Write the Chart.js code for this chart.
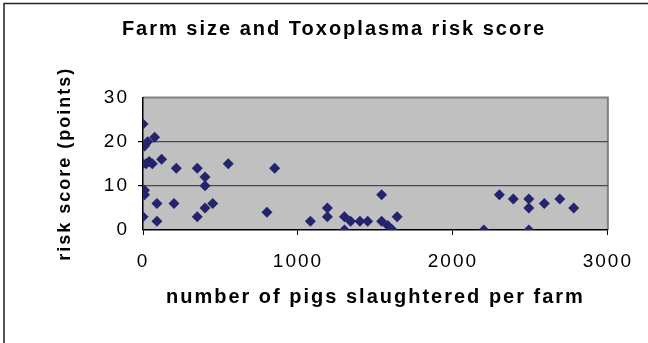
<!DOCTYPE html>
<html>
<head>
<meta charset="utf-8">
<script src="https://cdn.jsdelivr.net/npm/chart.js@4/dist/chart.umd.min.js"></script>
<style>
  body { margin: 0; background: #fff; }
  #wrap { width: 648px; height: 343px; }
</style>
</head>
<body>
<div id="wrap"><canvas id="myChart" width="648" height="343"></canvas></div>
<script>
// pigs slaughtered per farm vs risk score
const pigs = [0, 75, 30, 10, 0, 20, 40, 60, 120, 215, 350, 400, 400, 550, 850,
  10, 10, 90, 200, 0, 90, 350, 400, 450, 800, 1080, 1190, 1190, 1300, 1300,
  1340, 1400, 1450, 1540, 1540, 1580, 1610, 1640, 2200, 2300, 2390, 2490, 2490,
  2490, 2590, 2690, 2780];
const riskScore = [24, 21, 20, 19, 15, 15, 15.5, 15, 16, 14, 14, 12, 10, 15, 14,
  9, 8, 6, 6, 3, 2, 3, 5, 6, 4, 2, 5, 3, 3, 0,
  2, 2, 2, 8, 2, 1, 0, 3, 0, 8, 7, 7, 5,
  0, 6, 7, 5];
const xTicks = [0, 1000, 2000, 3000];
const yTicks = [0, 10, 20, 30];

const points = pigs.map((p, i) => ({ x: p, y: riskScore[i] }));

const fontFamily = 'Arial, "Liberation Sans", sans-serif';

// grey plot area + outer frame like the old Excel chart
// the text in the original is spaced out a bit, so letterSpacing is set on the context
const excelLook = {
  id: "excelLook",
  beforeUpdate(chart) {
    chart.ctx.letterSpacing = "2px";
  },
  beforeDraw(chart) {
    const { ctx, chartArea: a } = chart;
    ctx.letterSpacing = "2px";
    ctx.save();
    ctx.fillStyle = "#fff";
    ctx.fillRect(0, 0, chart.width, chart.height);
    ctx.fillStyle = "#c0c0c0";
    ctx.fillRect(a.left, a.top, a.right - a.left, a.bottom - a.top);
    ctx.strokeStyle = "#808080";
    ctx.lineWidth = 2;
    ctx.beginPath();
    ctx.moveTo(a.left, a.top);
    ctx.lineTo(a.right, a.top);
    ctx.lineTo(a.right, a.bottom);
    ctx.stroke();
    // frame: only top and left edges are visible
    ctx.strokeStyle = "#222";
    ctx.lineWidth = 1.5;
    ctx.beginPath();
    ctx.moveTo(4, 400);
    ctx.lineTo(4, 3.5);
    ctx.lineTo(700, 3.5);
    ctx.stroke();
    ctx.restore();
  },
};

const ctx = document.getElementById("myChart");

new Chart(ctx, {
  type: "scatter",
  data: {
    datasets: [
      {
        label: "risk score",
        data: points,
        pointStyle: "rectRot",
        pointRadius: 5.5,
        pointHoverRadius: 5.5,
        backgroundColor: "#24246e",
        borderColor: "#24246e",
        borderWidth: 0,
      },
    ],
  },
  options: {
    responsive: false,
    animation: false,
    events: [],
    layout: {
      padding: { left: 25, right: 5, top: 0, bottom: 34 },
    },
    scales: {
      x: {
        type: "linear",
        min: 0,
        max: 3000,
        afterBuildTicks: (s) => { s.ticks = xTicks.map((v) => ({ value: v })); },
        afterFit: (s) => { s.height = 309 - 230; },
        grid: {
          drawOnChartArea: false,
          drawTicks: true,
          tickLength: 5,
          tickColor: "#000",
        },
        border: { color: "#000", width: 1.5 },
        ticks: {
          color: "#000",
          padding: 15,
          maxRotation: 0,
          font: { family: fontFamily, size: 19 },
          callback: (v) => String(v),
        },
        title: {
          display: true,
          text: "number of pigs slaughtered per farm",
          color: "#000",
          font: { family: fontFamily, size: 20, weight: "bold" },
          padding: { top: 10, bottom: 0 },
        },
      },
      y: {
        min: 0,
        max: 30,
        afterBuildTicks: (s) => { s.ticks = yTicks.map((v) => ({ value: v })); },
        afterFit: (s) => { s.width = 143 - 25; },
        grid: {
          color: "#4a4a4a",
          lineWidth: (c) => (c.tick && (c.tick.value === 0 || c.tick.value === 30) ? 0 : 1.2),
          drawTicks: true,
          tickLength: 5,
          tickColor: "#000",
        },
        border: { color: "#000", width: 1.5 },
        ticks: {
          color: "#000",
          padding: 9,
          font: { family: fontFamily, size: 19 },
        },
        title: {
          display: true,
          text: "risk score (points)",
          color: "#000",
          font: { family: fontFamily, size: 18, weight: "bold" },
          padding: { top: 29, bottom: 0 },
        },
      },
      // empty right axis, only keeps room so the plot ends at 3000 like the original
      yRight: {
        position: "right",
        display: true,
        grid: { display: false },
        border: { display: false },
        ticks: { display: false },
        afterFit: (s) => { s.width = 643 - 611; },
      },
    },
    plugins: {
      legend: { display: false },
      tooltip: { enabled: false },
      title: {
        display: true,
        text: "Farm size and Toxoplasma risk score",
        color: "#000",
        font: { family: fontFamily, size: 20, weight: "bold" },
        padding: { top: 17, bottom: 56.5 },
      },
    },
  },
  plugins: [excelLook],
});
</script>
</body>
</html>
